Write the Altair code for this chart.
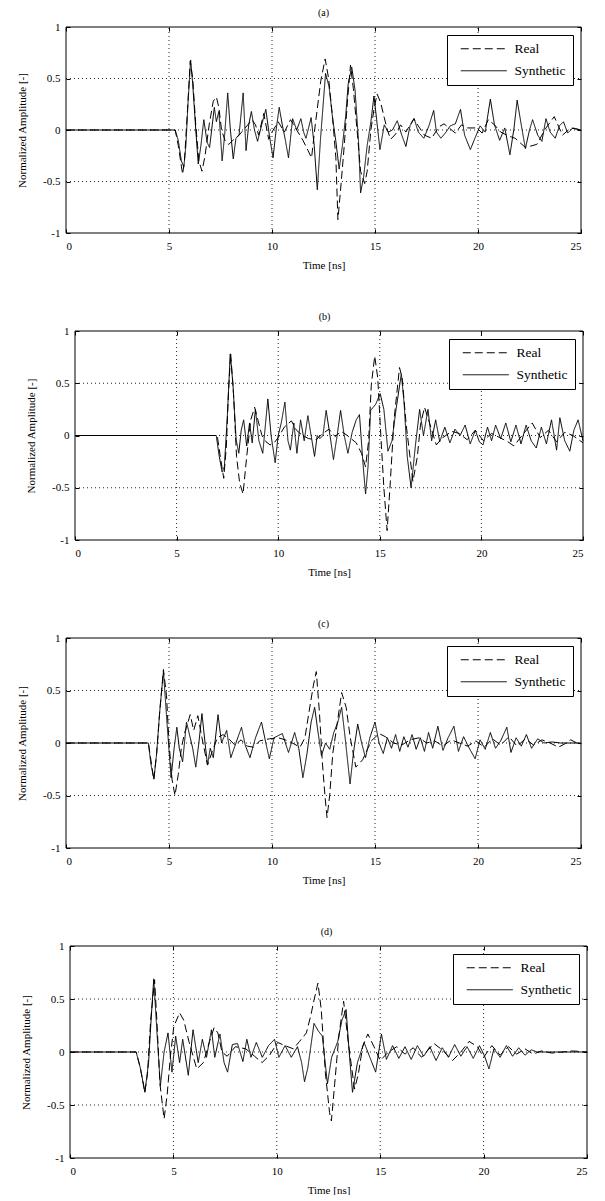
import altair as alt
import pandas as pd

# ---------------- data ----------------
SERIES = ["Real", "Synthetic"]
X_TICKS = [0, 5, 10, 15, 20, 25]
Y_TICKS = [-1, -0.5, 0, 0.5, 1]
PANEL_LABELS = ["(a)", "(b)", "(c)", "(d)"]

a_real_t = [0, 5.3, 5.45, 5.6, 5.66, 5.75, 5.9, 6.03, 6.15, 6.3, 6.45, 6.6, 6.75, 6.95, 7.15, 7.3, 7.42, 7.55, 7.75, 7.9,
            8.1, 8.4, 8.7, 9.03, 9.2, 9.35, 9.6, 9.84, 10.0, 10.3, 10.6, 10.9, 11.2, 11.5, 11.75, 11.92, 12.1, 12.37, 12.58, 12.75,
            12.95, 13.1, 13.2, 13.32, 13.5, 13.66, 13.81, 13.95, 14.15, 14.3, 14.5, 14.62, 14.8, 14.95, 15.1, 15.27, 15.45, 15.6, 15.76, 16.0,
            16.24, 16.5, 16.73, 16.89, 17.1, 17.4, 17.75, 18.1, 18.35, 18.6, 18.9, 19.2, 19.5, 19.95, 20.2, 20.5, 20.8, 21.1, 21.5, 21.8,
            22.3, 22.85, 23.3, 23.7, 24.1, 24.5, 25]
a_real_v = [0, 0, -0.15, -0.35, -0.43, -0.3, 0.2, 0.67, 0.5, 0.05, -0.3, -0.4, -0.25, 0.05, 0.28, 0.32, 0.22, 0.0, -0.12, -0.14,
            -0.1, -0.05, 0.02, 0.1, 0.05, -0.05, 0.16, -0.09, -0.02, 0.08, -0.02, 0.1, 0.0, -0.1, -0.2, -0.27, 0.05, 0.48, 0.69, 0.5,
            0.1, -0.27, -0.87, -0.6, -0.17, 0.27, 0.63, 0.4, -0.05, -0.4, -0.52, -0.4, 0.0, 0.2, 0.35, 0.27, 0.12, 0.0, -0.09, -0.04,
            0.05, -0.02, 0.06, 0.11, 0.04, -0.05, -0.08, 0.03, 0.06, 0.02, -0.03, 0.05, 0.02, 0.02, -0.03, 0.1, 0.05, -0.02, -0.06, -0.08,
            -0.17, -0.14, 0.02, 0.13, -0.05, 0.02, 0.0]

a_syn_t = [0, 5.3, 5.45, 5.6, 5.72, 5.82, 5.92, 6.05, 6.15, 6.3, 6.42, 6.55, 6.69, 6.85, 6.97, 7.1, 7.2, 7.3, 7.42, 7.58,
           7.7, 7.85, 7.98, 8.12, 8.25, 8.4, 8.6, 8.74, 8.87, 9.0, 9.15, 9.3, 9.5, 9.7, 9.87, 10.05, 10.2, 10.35, 10.5, 10.65,
           10.8, 11.0, 11.2, 11.4, 11.55, 11.65, 11.9, 12.05, 12.2, 12.35, 12.6, 12.77, 12.95, 13.1, 13.26, 13.42, 13.58, 13.7, 13.87, 14.03,
           14.2, 14.3, 14.45, 14.62, 14.8, 14.95, 15.08, 15.24, 15.45, 15.65, 15.85, 16.08, 16.3, 16.5, 16.7, 16.9, 17.1, 17.37, 17.6, 17.85,
           17.98, 18.2, 18.45, 18.65, 18.9, 19.15, 19.35, 19.63, 19.85, 20.1, 20.35, 20.6, 20.8, 21.05, 21.3, 21.55, 21.75, 21.9, 22.1, 22.3,
           22.5, 22.65, 22.9, 23.1, 23.3, 23.5, 23.75, 23.95, 24.15, 24.35, 24.6, 25]
a_syn_v = [0, 0, -0.1, -0.3, -0.36, -0.15, 0.25, 0.68, 0.45, 0.0, -0.33, -0.15, 0.1, -0.12, -0.17, 0.05, 0.22, 0.08, 0.18, -0.3,
           -0.05, 0.36, 0.0, -0.28, -0.08, -0.05, 0.36, -0.2, 0.05, 0.18, 0.0, -0.11, 0.05, 0.2, -0.05, -0.27, 0.0, 0.22, 0.05, -0.1,
           -0.27, 0.11, 0.0, 0.11, -0.03, -0.08, 0.12, -0.15, -0.58, -0.1, 0.55, 0.42, 0.1, -0.11, -0.38, -0.15, 0.14, 0.45, 0.61, 0.39,
           -0.11, -0.61, -0.45, -0.15, 0.08, 0.33, 0.1, -0.19, 0.05, -0.02, 0.0, 0.09, -0.05, -0.16, 0.04, 0.11, -0.02, -0.08, 0.03, 0.19,
           -0.02, -0.08, -0.02, 0.04, 0.06, 0.2, -0.05, -0.19, -0.08, 0.04, -0.02, 0.3, 0.05, -0.1, 0.02, -0.24, 0.02, 0.29, 0.05, -0.18,
           0.0, 0.1, -0.05, -0.11, 0.11, -0.02, -0.08, 0.04, 0.08, -0.03, 0.02, 0.0]

b_real_t = [0, 7.0, 7.15, 7.32, 7.45, 7.55, 7.66, 7.8, 7.95, 8.1, 8.27, 8.45, 8.65, 8.84, 9.0, 9.2, 9.4, 9.6, 9.8, 10.0,
            10.3, 10.65, 10.9, 11.2, 11.5, 11.87, 12.2, 12.5, 12.8, 13.1, 13.4, 13.84, 14.1, 14.3, 14.45, 14.58, 14.75, 14.9, 15.05, 15.2,
            15.36, 15.5, 15.7, 15.97, 16.1, 16.3, 16.63, 16.85, 17.0, 17.2, 17.4, 17.78, 18.1, 18.54, 18.9, 19.3, 19.7, 20.1, 20.5, 20.9,
            21.3, 21.6, 22.0, 22.5, 22.9, 23.3, 23.7, 24.1, 24.5, 25]
b_real_v = [0, 0, -0.2, -0.41, -0.1, 0.4, 0.79, 0.4, -0.2, -0.45, -0.56, -0.2, 0.15, 0.27, 0.15, 0.0, -0.06, -0.09, -0.07, -0.02,
            0.08, 0.14, 0.05, 0.0, -0.03, -0.04, 0.02, 0.06, -0.01, 0.04, 0.0, -0.07, -0.17, -0.3, -0.05, 0.48, 0.76, 0.55, 0.0, -0.5,
            -0.91, -0.5, 0.15, 0.65, 0.55, 0.1, -0.44, -0.2, 0.1, 0.27, 0.15, -0.09, -0.02, 0.04, 0.02, -0.04, 0.05, -0.05, 0.02, -0.02,
            -0.06, -0.1, 0.0, 0.12, -0.02, 0.05, -0.06, 0.03, 0.0, -0.07]

b_syn_t = [0, 6.95, 7.1, 7.24, 7.35, 7.5, 7.64, 7.77, 7.93, 8.06, 8.18, 8.3, 8.45, 8.59, 8.72, 8.88, 9.05, 9.24, 9.49, 9.65,
           9.85, 10.0, 10.15, 10.33, 10.48, 10.6, 10.77, 10.92, 11.1, 11.28, 11.46, 11.62, 11.79, 11.92, 12.05, 12.2, 12.36, 12.55, 12.72, 12.9,
           13.07, 13.25, 13.43, 13.64, 13.84, 14.0, 14.17, 14.3, 14.42, 14.55, 14.8, 15.02, 15.2, 15.4, 15.6, 15.8, 16.06, 16.2, 16.35, 16.54,
           16.75, 16.96, 17.15, 17.37, 17.55, 17.75, 17.95, 18.2, 18.45, 18.7, 18.95, 19.2, 19.45, 19.7, 19.9, 20.08, 20.3, 20.5, 20.7, 20.95,
           21.2, 21.45, 21.7, 21.95, 22.2, 22.45, 22.7, 22.95, 23.2, 23.45, 23.7, 23.86, 24.1, 24.35, 24.55, 24.76, 25]
b_syn_v = [0, 0, -0.2, -0.35, -0.3, 0.2, 0.78, 0.5, -0.04, -0.17, 0.05, 0.15, -0.1, 0.12, -0.07, 0.25, -0.05, -0.17, 0.35, 0.0,
           -0.26, 0.0, 0.12, 0.32, -0.05, -0.14, 0.12, -0.17, 0.15, -0.05, 0.19, 0.0, -0.2, 0.0, -0.03, 0.0, 0.24, 0.0, -0.23, 0.0,
           0.24, 0.0, -0.17, 0.03, 0.15, 0.2, -0.26, -0.56, -0.3, 0.24, 0.3, 0.4, 0.25, -0.15, -0.05, 0.25, 0.59, 0.3, -0.2, -0.5,
           -0.1, 0.25, 0.0, 0.25, -0.05, 0.15, -0.06, 0.08, -0.07, 0.06, 0.0, 0.1, -0.08, 0.05, -0.06, -0.09, 0.08, -0.05, 0.1, -0.03,
           0.12, -0.06, 0.1, -0.08, 0.1, -0.05, -0.12, 0.08, -0.08, 0.15, -0.14, 0.17, -0.05, -0.15, 0.05, 0.15, -0.05]

c_real_t = [0, 4.0, 4.15, 4.26, 4.4, 4.55, 4.73, 4.88, 5.0, 5.15, 5.29, 5.45, 5.6, 5.75, 6.03, 6.2, 6.4, 6.6, 6.87, 7.1,
            7.35, 7.62, 7.9, 8.2, 8.5, 8.8, 9.1, 9.4, 9.87, 10.3, 10.8, 11.36, 11.6, 11.8, 12.01, 12.15, 12.3, 12.45, 12.57, 12.67,
            12.8, 12.95, 13.14, 13.38, 13.6, 13.8, 14.07, 14.4, 14.82, 15.2, 15.5, 15.9, 16.3, 16.7, 17.15, 17.5, 17.9, 18.3, 18.7, 19.1,
            19.5, 19.9, 20.3, 20.7, 21.1, 21.5, 21.9, 22.3, 22.7, 23.1, 23.5, 23.9, 24.2, 24.5, 24.8, 25]
c_real_v = [0, 0, -0.2, -0.35, -0.1, 0.3, 0.7, 0.45, 0.0, -0.35, -0.5, -0.3, -0.05, 0.09, 0.27, 0.12, 0.26, 0.05, -0.21, -0.08,
            0.05, 0.08, 0.04, -0.02, 0.03, -0.03, -0.04, 0.02, 0.04, 0.05, 0.02, -0.04, 0.05, 0.3, 0.55, 0.68, 0.3, -0.2, -0.5, -0.71,
            -0.5, -0.1, 0.15, 0.48, 0.34, 0.05, -0.23, -0.16, 0.02, 0.09, 0.06, 0.0, -0.02, 0.03, 0.05, 0.0, 0.02, -0.03, 0.03, 0.0,
            -0.03, 0.02, -0.04, 0.04, -0.02, 0.06, -0.03, 0.04, -0.02, 0.03, 0.0, -0.04, -0.01, 0.03, 0.0, -0.01]

c_syn_t = [0, 4.0, 4.12, 4.27, 4.4, 4.55, 4.73, 4.9, 5.1, 5.25, 5.38, 5.5, 5.66, 5.85, 6.03, 6.15, 6.3, 6.45, 6.6, 6.75,
           6.87, 7.0, 7.15, 7.38, 7.55, 7.8, 8.0, 8.25, 8.52, 8.7, 8.93, 9.2, 9.49, 9.7, 9.87, 10.1, 10.5, 10.8, 11.1, 11.3,
           11.5, 11.7, 11.9, 12.07, 12.2, 12.4, 12.6, 12.8, 13.0, 13.2, 13.38, 13.55, 13.79, 13.95, 14.16, 14.35, 14.54, 14.75, 15.0, 15.2,
           15.4, 15.6, 15.8, 16.0, 16.2, 16.4, 16.6, 16.8, 17.0, 17.2, 17.4, 17.6, 17.8, 18.05, 18.3, 18.55, 18.83, 19.05, 19.3, 19.55,
           19.86, 20.1, 20.35, 20.6, 20.85, 21.1, 21.4, 21.6, 21.85, 22.1, 22.35, 22.6, 22.9, 23.2, 23.6, 24.0, 24.5, 25]
c_syn_v = [0, 0, -0.2, -0.34, -0.1, 0.3, 0.68, 0.2, -0.33, -0.05, 0.15, -0.05, -0.18, 0.2, 0.05, -0.05, -0.23, 0.0, 0.28, 0.0,
           -0.21, -0.05, -0.14, 0.27, 0.0, 0.12, -0.14, 0.0, 0.15, -0.02, -0.14, 0.05, 0.2, 0.0, -0.15, 0.05, 0.09, -0.09, 0.1, -0.05,
           -0.33, -0.1, 0.2, 0.34, 0.15, -0.12, 0.0, -0.06, 0.1, 0.2, 0.34, 0.05, -0.39, -0.1, 0.18, 0.0, -0.14, 0.05, 0.2, 0.0,
           -0.1, 0.05, -0.05, 0.08, -0.08, 0.06, -0.04, 0.08, -0.06, 0.05, -0.08, 0.1, -0.05, 0.16, -0.07, 0.05, 0.16, -0.08, 0.06, -0.04,
           -0.15, 0.03, -0.06, 0.1, -0.05, 0.02, 0.15, -0.09, 0.05, -0.03, 0.08, -0.05, 0.04, 0.0, 0.01, 0.0, 0.0, 0.0]

d_real_t = [0, 3.2, 3.4, 3.62, 3.75, 3.9, 4.09, 4.2, 4.35, 4.55, 4.7, 4.85, 5.02, 5.3, 5.5, 5.75, 6.13, 6.45, 6.75, 6.97,
            7.15, 7.35, 7.6, 8.0, 8.5, 8.92, 9.29, 9.65, 10.04, 10.4, 10.8, 11.1, 11.43, 11.65, 11.8, 11.99, 12.15, 12.35, 12.55, 12.64,
            12.8, 13.0, 13.23, 13.45, 13.76, 13.95, 14.15, 14.4, 14.7, 15.0, 15.4, 15.8, 16.2, 16.6, 17.0, 17.6, 18.0, 18.5, 18.9, 19.3,
            19.7, 20.0, 20.4, 20.8, 21.2, 21.6, 22.0, 22.4, 22.8, 23.3, 23.8, 24.3, 25]
d_real_v = [0, 0, -0.15, -0.38, -0.2, 0.3, 0.68, 0.3, -0.3, -0.63, -0.4, -0.05, 0.24, 0.37, 0.3, 0.1, -0.16, -0.1, 0.1, 0.23,
            0.18, 0.0, -0.04, 0.05, 0.03, -0.04, -0.1, -0.03, 0.09, 0.06, 0.03, 0.1, 0.18, 0.35, 0.49, 0.65, 0.4, -0.2, -0.57, -0.65,
            -0.3, 0.15, 0.48, 0.1, -0.35, -0.2, 0.05, 0.17, 0.05, -0.08, 0.0, 0.05, -0.02, 0.04, -0.05, 0.08, 0.02, -0.08, 0.0, 0.1,
            0.05, -0.05, 0.06, -0.03, 0.05, -0.02, 0.03, -0.02, 0.01, -0.01, 0.0, 0.01, 0.0]

d_syn_t = [0, 3.2, 3.4, 3.62, 3.8, 3.92, 4.05, 4.2, 4.37, 4.55, 4.74, 4.93, 5.11, 5.3, 5.45, 5.72, 5.95, 6.2, 6.4, 6.6,
           6.84, 7.0, 7.25, 7.45, 7.62, 7.85, 8.1, 8.36, 8.55, 8.75, 9.01, 9.3, 9.6, 9.89, 10.1, 10.4, 10.7, 11.0, 11.2, 11.34,
           11.5, 11.8, 12.0, 12.2, 12.45, 12.65, 12.95, 13.15, 13.35, 13.5, 13.66, 13.9, 14.22, 14.5, 14.78, 15.06, 15.3, 15.6, 15.9, 16.2,
           16.5, 16.8, 17.1, 17.4, 17.7, 18.0, 18.3, 18.6, 18.9, 19.2, 19.5, 19.8, 20.05, 20.26, 20.5, 20.8, 21.1, 21.4, 21.7, 22.0,
           22.3, 22.6, 23.0, 23.5, 24.0, 25]
d_syn_v = [0, 0, -0.15, -0.38, -0.1, 0.3, 0.69, 0.2, -0.32, 0.0, 0.18, -0.19, 0.15, -0.1, 0.12, -0.22, 0.21, -0.1, 0.12, -0.05,
           0.21, -0.05, 0.17, -0.1, -0.19, 0.07, 0.08, -0.09, 0.12, -0.05, 0.09, -0.05, 0.06, 0.12, -0.05, 0.06, -0.05, 0.05, -0.1, -0.28,
           -0.15, 0.27, 0.2, 0.15, -0.3, -0.05, 0.1, 0.3, 0.4, 0.0, -0.38, -0.1, 0.09, -0.05, -0.19, 0.17, -0.07, 0.06, -0.06, 0.05,
           -0.07, 0.06, -0.04, 0.05, -0.08, 0.04, -0.05, 0.07, -0.04, 0.05, -0.06, 0.06, -0.04, -0.16, 0.03, -0.05, 0.06, -0.04, 0.04, -0.03,
           0.02, 0.0, 0.0, 0.0, 0.0, 0.0]

# ---------------- chart ----------------
FONT = "Liberation Serif"
TICK = 4  # inward tick length (MATLAB style)

X0, X1 = X_TICKS[0], X_TICKS[-1]
Y0, Y1 = Y_TICKS[0], Y_TICKS[-1]
box_df = pd.DataFrame({"x0": [X0], "x1": [X1], "y0": [Y0], "y1": [Y1]})
vgrid_df = pd.DataFrame({"g": X_TICKS[1:-1], "y0": Y0, "y1": Y1})
hgrid_df = pd.DataFrame({"g": Y_TICKS[1:-1], "x0": X0, "x1": X1})


def make_df(rt, rv, st, sv):
    assert len(rt) == len(rv), (len(rt), len(rv))
    assert len(st) == len(sv), (len(st), len(sv))
    return pd.DataFrame({
        "t": rt + st,
        "v": rv + sv,
        "series": [SERIES[0]] * len(rt) + [SERIES[1]] * len(st),
        "i": list(range(len(rt))) + list(range(len(st))),
    })


def panel(label, df, w, h, dx):
    xs = alt.Scale(domain=[X0, X1], nice=False, zero=False, range=[dx, w])
    ys = alt.Scale(domain=[Y0, Y1], nice=False)

    vgrid = alt.Chart(vgrid_df).mark_rule(color="black", strokeWidth=1, strokeDash=[1, 3], opacity=0.85).encode(
        x=alt.X("g:Q", scale=xs, axis=None),
        y=alt.Y("y0:Q", scale=ys, axis=None),
        y2="y1:Q",
    )
    hgrid = alt.Chart(hgrid_df).mark_rule(color="black", strokeWidth=1, strokeDash=[1, 3], opacity=0.85).encode(
        y=alt.Y("g:Q", scale=ys, axis=None),
        x=alt.X("x0:Q", scale=xs, axis=None),
        x2="x1:Q",
    )
    lines = alt.Chart(df).mark_line(color="black", strokeWidth=1).encode(
        x=alt.X("t:Q", scale=xs,
                axis=alt.Axis(title="Time [ns]", values=X_TICKS, labelExpr="'' + datum.value", offset=-TICK)),
        y=alt.Y("v:Q", scale=ys,
                axis=alt.Axis(title="Normalized Amplitude [-]", values=Y_TICKS, labelExpr="'' + datum.value",
                              offset=-(dx + TICK))),
        strokeDash=alt.StrokeDash(
            "series:N",
            scale=alt.Scale(domain=SERIES, range=[[8, 4], [1, 0]]),
            legend=alt.Legend(
                title=None, orient="top-right", offset=8, padding=7,
                fillColor="white", strokeColor="black", cornerRadius=0,
                labelFont=FONT, labelFontSize=13.5, labelColor="black",
                symbolType="M-4.6,0L4.6,0", symbolSize=100, symbolStrokeWidth=1,
                symbolStrokeColor="black", symbolOffset=23, labelOffset=24, rowPadding=7,
            ),
        ),
        order=alt.Order("i:Q"),
    )
    box = alt.Chart(box_df).mark_rect(fillOpacity=0, stroke="black", strokeWidth=1).encode(
        x=alt.X("x0:Q", scale=xs,
                axis=alt.Axis(orient="top", title=None, labels=False, values=X_TICKS, offset=-TICK)),
        x2="x1:Q",
        y=alt.Y("y0:Q", scale=ys,
                axis=alt.Axis(orient="right", title=None, labels=False, values=Y_TICKS, offset=-TICK)),
        y2="y1:Q",
    )
    return (alt.layer(vgrid, hgrid, lines, box)
            .resolve_axis(x="independent", y="independent")
            .properties(title=alt.Title(label), width=w, height=h))


pa = panel(PANEL_LABELS[0], make_df(a_real_t, a_real_v, a_syn_t, a_syn_v), 515, 206, 0)
pb = panel(PANEL_LABELS[1], make_df(b_real_t, b_real_v, b_syn_t, b_syn_v), 517, 209, 9)
pc = panel(PANEL_LABELS[2], make_df(c_real_t, c_real_v, c_syn_t, c_syn_v), 515, 210, 0)
pd_ = panel(PANEL_LABELS[3], make_df(d_real_t, d_real_v, d_syn_t, d_syn_v), 521, 212, 4)

chart = (
    alt.vconcat(pa, pb, pc, pd_, spacing=98, bounds="flush")
    .resolve_scale(strokeDash="independent")
    .resolve_legend(strokeDash="independent")
    .properties(padding={"left": 8, "top": 0, "right": 4, "bottom": 0})
    .configure_view(stroke=None)
    .configure_axis(
        labelFont=FONT, labelFontSize=11, labelColor="black",
        titleFont=FONT, titleFontSize=11, titleColor="black", titleFontWeight="normal",
        domain=False, grid=False,
        ticks=True, tickSize=TICK, tickColor="black", tickWidth=1,
    )
    .configure_axisX(labelPadding=7, titlePadding=8)
    .configure_axisY(labelPadding=6, titlePadding=15)
    .configure_title(font=FONT, fontSize=10, fontWeight="normal", color="black", offset=3, anchor="middle")
)

chart.save("out.html", embed_options={"renderer": "svg", "actions": False})
